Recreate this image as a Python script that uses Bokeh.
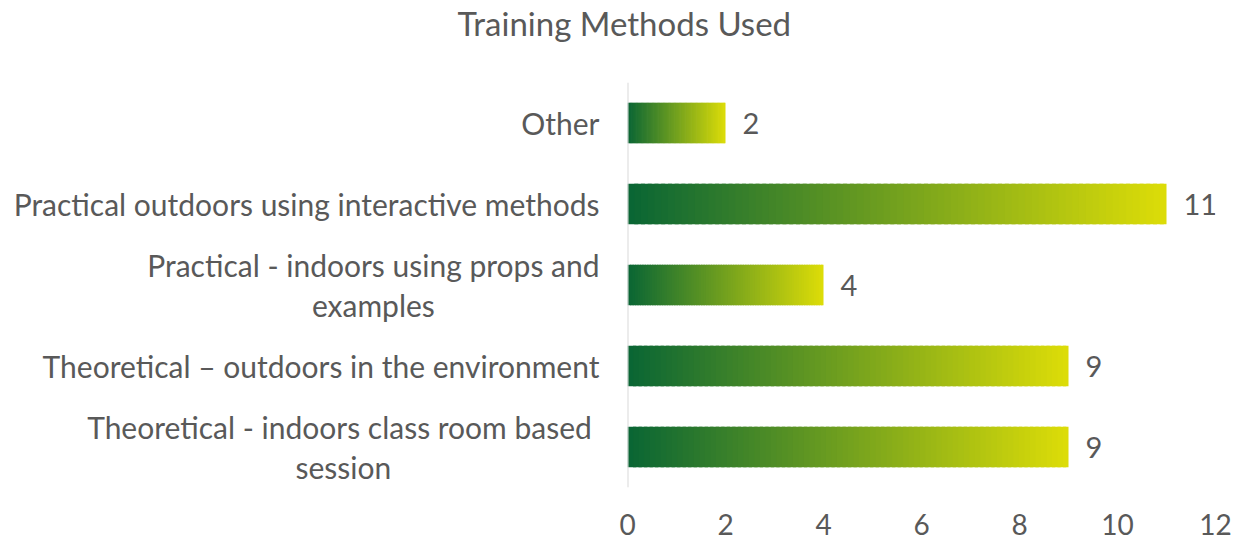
from bokeh.plotting import figure
from bokeh.models import ColumnDataSource, FactorRange, Range1d, FixedTicker, Title, Span
from bokeh.core.properties import value
from bokeh.embed import file_html
from bokeh.resources import INLINE

# ---- data ----
categories = [
    "Theoretical  - indoors class room based\nsession",
    "Theoretical \u2013 outdoors in the environment",
    "Practical - indoors using props and\nexamples",
    "Practical outdoors using interactive methods",
    "Other",
]
counts = [9, 9, 4, 11, 2]
x_ticks = [0, 2, 4, 6, 8, 10, 12]
title_text = "Training Methods Used"

FONT = "Lato"
TEXT_COLOR = "#595959"
GRAD_START = (10, 102, 52)
GRAD_END = (220, 220, 8)
N_SLICES = 80

W, H = 1236, 545
LEFT, RIGHT, TOP, BOTTOM = 627, 21, 75, 58

# gradient slices built from the data values
lefts, rights, ys, colors = [], [], [], []
for cat, v in zip(categories, counts):
    for i in range(N_SLICES):
        t = i / (N_SLICES - 1)
        r = round(GRAD_START[0] + (GRAD_END[0] - GRAD_START[0]) * t)
        g = round(GRAD_START[1] + (GRAD_END[1] - GRAD_START[1]) * t)
        b = round(GRAD_START[2] + (GRAD_END[2] - GRAD_START[2]) * t)
        lefts.append(v * i / N_SLICES)
        rights.append(min(v, v * (i + 1.6) / N_SLICES))
        ys.append(cat)
        colors.append("#%02x%02x%02x" % (r, g, b))

bars = ColumnDataSource(dict(left=lefts, right=rights, y=ys, color=colors))
labels = ColumnDataSource(dict(x=counts, y=categories, text=[str(c) for c in counts]))
cat_src = ColumnDataSource(dict(x=[0] * len(categories), y=categories, text=categories))

p = figure(
    width=W, height=H,
    y_range=FactorRange(*categories),
    x_range=Range1d(0, 12),
    output_backend="svg", toolbar_location=None,
    min_border_left=LEFT, min_border_right=RIGHT,
    min_border_top=TOP, min_border_bottom=BOTTOM,
)
# title with a trailing empty line, which lifts it away from the frame
p.title = Title(text=title_text + "\n", align="left", text_font=FONT,
                text_font_size="33px", text_font_style="normal",
                text_color=TEXT_COLOR, offset=-170, standoff=0)

p.hbar(y="y", left="left", right="right", height=0.5, source=bars,
       fill_color="color", line_color=None)

p.text(x="x", y="y", text="text", source=labels, x_offset=17,
       text_baseline="middle", text_align="left",
       text_font=value(FONT), text_font_size="29px", text_color=TEXT_COLOR)

# y axis line
p.add_layout(Span(location=0, dimension="height", line_color="#d9d9d9", line_width=2))

# category labels: block right-aligned, lines centered; drawn unclipped
p.text(x="x", y="y", text="text", source=cat_src, x_offset=-28,
       anchor=value("center_right"), text_align="center", text_baseline="middle",
       text_font=value(FONT), text_font_size="30px", text_color=TEXT_COLOR,
       text_line_height=1.1, level="overlay")

p.xgrid.visible = False
p.ygrid.visible = False
p.outline_line_color = None
p.yaxis.visible = False

p.xaxis.ticker = FixedTicker(ticks=x_ticks)
p.xaxis.axis_line_color = None
p.xaxis.major_tick_line_color = None
p.xaxis.minor_tick_line_color = None
p.xaxis.major_label_standoff = 20
p.xaxis.major_label_text_font = FONT
p.xaxis.major_label_text_font_size = "28px"
p.xaxis.major_label_text_color = TEXT_COLOR

open("out.html", "w").write(file_html(p, INLINE))
